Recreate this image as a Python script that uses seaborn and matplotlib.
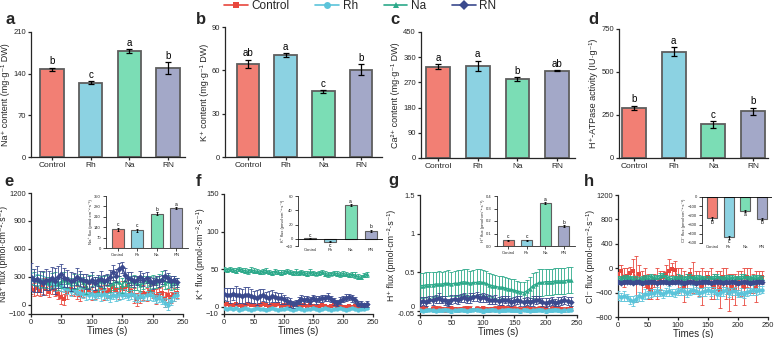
import matplotlib
matplotlib.use("Agg")
import matplotlib.pyplot as plt
from matplotlib.lines import Line2D
import numpy as np
import pandas as pd
import seaborn as sns

# ---------------- data ----------------
groups = ["Control", "Rh", "Na", "RN"]
fill_colors = ["#F27F74", "#8CD2E2", "#7BDDB5", "#A3A8C8"]
line_colors = ["#E8473D", "#5BC4DA", "#2CA98A", "#3B4A8E"]
markers = ["s", "o", "^", "D"]

# top row bar panels
na_content = [147, 125, 178, 149]
na_content_err = [3, 2, 3, 10]
na_content_letters = ["b", "c", "a", "b"]

k_content = [64.5, 70.5, 45.5, 60.5]
k_content_err = [3, 1.5, 1, 4]
k_content_letters = ["ab", "a", "c", "b"]

ca_content = [326, 330, 282, 312]
ca_content_err = [8, 18, 7, 3]
ca_content_letters = ["a", "a", "b", "ab"]

atpase = [293, 618, 195, 272]
atpase_err = [12, 25, 18, 20]
atpase_letters = ["b", "a", "c", "b"]

# insets (mean flux)
na_flux_mean = [127, 120, 229, 269]
na_flux_mean_err = [10, 10, 10, 8]
na_flux_letters = ["c", "c", "b", "a"]

k_flux_mean = [1, -4, 47, 11]
k_flux_mean_err = [0.5, 1, 1.5, 2]
k_flux_letters = ["c", "c", "a", "b"]

h_flux_mean = [0.045, 0.045, 0.345, 0.16]
h_flux_mean_err = [0.005, 0.005, 0.006, 0.008]
h_flux_letters = ["c", "c", "a", "b"]

cl_flux_mean = [-230, -440, -150, -240]
cl_flux_mean_err = [15, 15, 10, 10]
cl_flux_letters = ["b", "c", "a", "b"]

times = list(range(0, 245, 5))

# ---- Na+ flux time courses
e_control = [200, 160, 180, 150, 200, 170, 140, 190, 160, 120,
             80, 60, 140, 170, 150, 130, 100, 150, 180, 160,
             120, 140, 150, 170, 130, 140, 160, 190, 160, 120,
             180, 170, 200, 150, 100, 60, 80, 130, 110, 150,
             140, 90, 120, 130, 60, 100, 80, 110, 130]
e_control_err = [90, 70, 80, 60, 90, 70, 60, 80, 70, 60,
                 70, 60, 80, 70, 60, 70, 60, 70, 80, 60,
                 70, 80, 60, 70, 80, 70, 60, 70, 80, 60,
                 70, 80, 70, 60, 80, 70, 60, 80, 70, 60,
                 70, 80, 60, 70, 80, 70, 60, 70, 60]
e_rh = [280, 260, 270, 240, 250, 230, 220, 240, 210, 230,
        200, 180, 170, 150, 160, 140, 130, 120, 110, 100,
        110, 90, 120, 100, 110, 90, 80, 100, 90, 110,
        100, 120, 90, 110, 100, 70, 90, 80, 100, 110,
        90, 60, 80, 50, 20, 0, 40, 90, 100]
e_rh_err = [60, 50, 60, 50, 60, 50, 40, 50, 60, 50,
            50, 40, 50, 60, 50, 40, 50, 50, 60, 40,
            50, 40, 50, 60, 50, 40, 50, 40, 50, 60,
            40, 50, 40, 50, 60, 40, 50, 40, 50, 60,
            50, 40, 50, 40, 50, 60, 40, 50, 40]
e_na = [300, 280, 260, 250, 270, 240, 230, 260, 280, 220,
        250, 270, 240, 220, 250, 230, 260, 240, 200, 250,
        260, 230, 220, 250, 240, 260, 220, 230, 250, 240,
        210, 260, 220, 250, 240, 230, 210, 240, 250, 230,
        250, 240, 260, 280, 230, 250, 220, 240, 230]
e_na_err = [80, 70, 60, 70, 80, 60, 70, 80, 70, 60,
            70, 80, 60, 70, 80, 60, 70, 60, 80, 70,
            60, 70, 80, 60, 70, 60, 80, 70, 60, 70,
            80, 60, 70, 60, 80, 70, 60, 70, 60, 80,
            70, 60, 70, 80, 60, 70, 60, 70, 60]
e_rn = [300, 260, 280, 250, 230, 270, 260, 290, 250, 300,
        330, 290, 280, 250, 260, 300, 280, 260, 250, 240,
        270, 230, 260, 280, 250, 270, 300, 350, 310, 380,
        400, 320, 290, 280, 250, 260, 300, 270, 290, 250,
        230, 260, 250, 270, 310, 290, 250, 260, 240]
e_rn_err = [150, 120, 140, 110, 130, 110, 100, 120, 140, 120,
            110, 100, 90, 100, 80, 90, 80, 70, 80, 70,
            80, 70, 60, 80, 70, 60, 70, 80, 70, 70,
            60, 70, 60, 70, 60, 50, 60, 70, 60, 50,
            60, 50, 60, 50, 60, 50, 60, 50, 50]

# ---- K+ flux time courses
f_control = [2, 3, 2, 2, 3, 2, 1, 2, 3, 2,
             2, 1, 2, 3, 2, 1, 2, 2, 3, 1,
             2, 2, 1, 2, 3, 2, 1, 2, 1, 2,
             1, 0, 1, 2, 1, 0, 1, 2, 1, 0,
             -1, 0, 1, 0, 1, 0, 1, 0, 1]
f_control_err = [1.5, 1.2, 1.5, 1.0, 1.5, 1.2, 1.0, 1.5, 1.2, 1.0,
                 1.5, 1.2, 1.0, 1.5, 1.2, 1.0, 1.5, 1.2, 1.0, 1.5,
                 1.2, 1.0, 1.5, 1.2, 1.0, 1.5, 1.2, 1.0, 1.5, 1.2,
                 1.0, 1.5, 1.2, 1.0, 1.5, 1.2, 1.0, 1.5, 1.2, 1.0,
                 1.5, 1.2, 1.0, 1.5, 1.2, 1.0, 1.5, 1.2, 1.0]
f_rh = [-2, -3, -2, -3, -2, -4, -3, -2, -3, -4,
        -3, -2, -3, -3, -4, -3, -2, -3, -4, -3,
        -3, -2, -3, -4, -3, -2, -3, -4, -3, -3,
        -2, -3, -4, -3, -2, -3, -4, -3, -3, -2,
        -3, -4, -3, -2, -3, -4, -3, -3, -2]
f_rh_err = [1.2, 1.0, 1.5, 1.2, 1.0, 1.5, 1.2, 1.0, 1.5, 1.2,
            1.0, 1.5, 1.2, 1.0, 1.5, 1.2, 1.0, 1.5, 1.2, 1.0,
            1.5, 1.2, 1.0, 1.5, 1.2, 1.0, 1.5, 1.2, 1.0, 1.5,
            1.2, 1.0, 1.5, 1.2, 1.0, 1.5, 1.2, 1.0, 1.5, 1.2,
            1.0, 1.5, 1.2, 1.0, 1.5, 1.2, 1.0, 1.5, 1.2]
f_na = [50, 49, 50, 49, 48, 50, 49, 48, 47, 49,
        48, 47, 46, 47, 48, 46, 45, 47, 46, 45,
        46, 47, 46, 45, 46, 45, 46, 45, 44, 46,
        45, 44, 45, 46, 44, 43, 44, 45, 44, 43,
        44, 43, 42, 43, 42, 40, 39, 42, 43]
f_na_err = [3, 3, 2.5, 3, 3.5, 3, 2.5, 3, 3, 3.5,
            3, 2.5, 3, 3, 3.5, 3, 2.5, 3, 3, 3.5,
            3, 2.5, 3, 3, 3.5, 3, 2.5, 3, 3, 3.5,
            3, 2.5, 3, 3, 3.5, 3, 2.5, 3, 3, 3.5,
            3, 2.5, 3, 3, 3.5, 3, 2.5, 3, 3]
f_rn = [17, 16, 15, 17, 16, 15, 14, 15, 16, 14,
        13, 12, 14, 15, 13, 12, 14, 13, 12, 11,
        10, 8, 6, 3, 5, 8, 10, 9, 10, 8,
        11, 9, 10, 11, 12, 13, 10, 7, 5, 8,
        10, 12, 13, 11, 9, 4, 3, 2, 4]
f_rn_err = [8, 9, 10, 8, 12, 10, 9, 11, 10, 9,
            8, 10, 9, 8, 7, 9, 8, 7, 6, 7,
            6, 5, 6, 5, 4, 5, 6, 5, 4, 5,
            4, 5, 4, 5, 4, 5, 4, 5, 4, 5,
            4, 5, 4, 5, 4, 3, 4, 3, 4]

# ---- H+ flux time courses
g_control = [0.03, 0.04, 0.03, 0.02, 0.03, 0.04, 0.03, 0.03, 0.02, 0.03,
             0.04, 0.03, 0.02, 0.03, 0.03, 0.04, 0.03, 0.02, 0.03, 0.03,
             0.04, 0.03, 0.02, 0.03, 0.03, 0.04, 0.05, 0.04, 0.03, 0.04,
             0.03, 0.03, 0.02, 0.03, 0.04, 0.03, 0.02, 0.03, 0.03, 0.04,
             0.03, 0.02, 0.03, 0.04, 0.03, 0.03, 0.02, 0.03, 0.04]
g_control_err = [0.03, 0.02, 0.03, 0.02, 0.03, 0.02, 0.03, 0.02, 0.03, 0.02,
                 0.03, 0.02, 0.03, 0.02, 0.03, 0.02, 0.03, 0.02, 0.03, 0.02,
                 0.03, 0.02, 0.03, 0.02, 0.03, 0.02, 0.03, 0.02, 0.03, 0.02,
                 0.03, 0.02, 0.03, 0.02, 0.03, 0.02, 0.03, 0.02, 0.03, 0.02,
                 0.03, 0.02, 0.03, 0.02, 0.03, 0.02, 0.03, 0.02, 0.03]
g_rh = [0.01, 0.00, 0.01, 0.02, 0.01, 0.00, 0.01, 0.01, 0.02, 0.01,
        0.00, 0.01, 0.01, 0.02, 0.01, 0.00, 0.01, 0.02, 0.02, 0.01,
        0.00, 0.01, 0.01, 0.02, 0.01, 0.00, 0.01, 0.01, 0.02, 0.01,
        0.01, 0.01, 0.00, 0.02, 0.01, 0.00, 0.01, 0.01, 0.02, 0.01,
        0.00, 0.01, 0.01, 0.02, 0.01, 0.00, 0.01, 0.01, 0.02]
g_rh_err = [0.02, 0.015, 0.02, 0.015, 0.02, 0.015, 0.02, 0.015, 0.02, 0.015,
            0.02, 0.015, 0.02, 0.015, 0.02, 0.015, 0.02, 0.015, 0.02, 0.015,
            0.02, 0.015, 0.02, 0.015, 0.02, 0.015, 0.02, 0.015, 0.02, 0.015,
            0.02, 0.015, 0.02, 0.015, 0.02, 0.015, 0.02, 0.015, 0.02, 0.015,
            0.02, 0.015, 0.02, 0.015, 0.02, 0.015, 0.02, 0.015, 0.02]
g_na = [0.33, 0.33, 0.34, 0.34, 0.34, 0.35, 0.35, 0.35, 0.36, 0.36,
        0.35, 0.36, 0.36, 0.37, 0.38, 0.37, 0.36, 0.37, 0.37, 0.38,
        0.37, 0.36, 0.34, 0.33, 0.32, 0.31, 0.31, 0.30, 0.29, 0.28,
        0.27, 0.26, 0.25, 0.24, 0.26, 0.29, 0.33, 0.35, 0.37, 0.37,
        0.38, 0.38, 0.38, 0.39, 0.39, 0.39, 0.39, 0.40, 0.40]
g_na_err = [0.16, 0.16, 0.16, 0.17, 0.16, 0.16, 0.17, 0.16, 0.16, 0.17,
            0.16, 0.16, 0.17, 0.16, 0.16, 0.17, 0.16, 0.16, 0.17, 0.16,
            0.16, 0.16, 0.15, 0.15, 0.15, 0.15, 0.14, 0.14, 0.14, 0.14,
            0.14, 0.13, 0.13, 0.13, 0.14, 0.15, 0.16, 0.16, 0.17, 0.17,
            0.17, 0.17, 0.17, 0.17, 0.17, 0.17, 0.17, 0.17, 0.17]
g_rn = [0.12, 0.13, 0.12, 0.15, 0.14, 0.16, 0.17, 0.15, 0.14, 0.11,
        0.15, 0.16, 0.15, 0.17, 0.18, 0.16, 0.17, 0.18, 0.19, 0.17,
        0.18, 0.17, 0.15, 0.14, 0.15, 0.13, 0.14, 0.15, 0.14, 0.12,
        0.13, 0.14, 0.13, 0.12, 0.13, 0.12, 0.13, 0.14, 0.15, 0.12,
        0.11, 0.12, 0.13, 0.11, 0.12, 0.13, 0.14, 0.13, 0.12]
g_rn_err = [0.06, 0.05, 0.06, 0.05, 0.06, 0.05, 0.06, 0.05, 0.06, 0.05,
            0.06, 0.05, 0.06, 0.05, 0.06, 0.05, 0.06, 0.05, 0.06, 0.05,
            0.06, 0.05, 0.06, 0.05, 0.06, 0.05, 0.06, 0.05, 0.06, 0.05,
            0.05, 0.05, 0.06, 0.05, 0.05, 0.05, 0.06, 0.05, 0.05, 0.05,
            0.06, 0.05, 0.05, 0.05, 0.06, 0.05, 0.05, 0.05, 0.06]

# ---- Cl- flux time courses
h_control = [-100, -50, -150, -120, -80, -50, -180, -100, -250, -150,
             -300, -350, -200, -250, -200, -150, -100, -50, -10, -30,
             -200, -150, -300, -250, -100, -150, -200, -250, -300, -200,
             -150, -250, -300, -200, -350, -150, -250, -400, -300, -350,
             -200, -250, -300, -150, -200, -250, -300, -200, -150]
h_control_err = [150, 100, 150, 120, 100, 200, 380, 150, 200, 150,
                 200, 150, 100, 250, 150, 100, 150, 200, 100, 150,
                 200, 150, 250, 150, 100, 250, 150, 200, 300, 150,
                 100, 250, 200, 150, 300, 150, 250, 300, 200, 250,
                 150, 200, 300, 150, 200, 150, 250, 150, 100]
h_rh = [-450, -470, -460, -480, -520, -540, -500, -460, -470, -420,
        -430, -410, -400, -380, -400, -420, -390, -370, -400, -410,
        -380, -360, -380, -400, -380, -350, -370, -400, -390, -380,
        -360, -380, -370, -420, -400, -380, -360, -400, -380, -370,
        -420, -400, -430, -390, -380, -360, -380, -360, -350]
h_rh_err = [70, 60, 80, 60, 70, 80, 60, 70, 60, 80,
            60, 70, 60, 80, 60, 70, 60, 80, 60, 70,
            60, 80, 60, 70, 60, 80, 60, 70, 60, 80,
            60, 70, 60, 80, 60, 70, 60, 80, 60, 70,
            60, 80, 60, 70, 60, 80, 60, 70, 60]
h_na = [-170, -160, -150, -140, -150, -160, -170, -180, -160, -150,
        -140, -130, -150, -140, -120, -110, -140, -160, -170, -150,
        -140, -150, -160, -140, -130, -150, -150, -140, -150, -160,
        -170, -150, -140, -130, -150, -160, -150, -140, -150, -160,
        -150, -140, -130, -150, -160, -150, -140, -150, -160]
h_na_err = [40, 30, 40, 35, 30, 40, 35, 30, 40, 35,
            30, 40, 35, 30, 40, 35, 30, 40, 35, 30,
            40, 35, 30, 40, 35, 30, 40, 35, 30, 40,
            35, 30, 40, 35, 30, 40, 35, 30, 40, 35,
            30, 40, 35, 30, 40, 35, 30, 40, 35]
h_rn = [-230, -240, -230, -220, -230, -240, -230, -220, -240, -230,
        -230, -220, -230, -240, -230, -220, -230, -240, -230, -230,
        -220, -230, -240, -230, -220, -230, -240, -230, -230, -220,
        -230, -240, -230, -220, -230, -240, -230, -230, -220, -230,
        -240, -230, -220, -230, -240, -230, -230, -220, -230]
h_rn_err = [30, 25, 30, 25, 30, 25, 30, 25, 30, 25,
            30, 25, 30, 25, 30, 25, 30, 25, 30, 25,
            30, 25, 30, 25, 30, 25, 30, 25, 30, 25,
            30, 25, 30, 25, 30, 25, 30, 25, 30, 25,
            30, 25, 30, 25, 30, 25, 30, 25, 30]

# ---------------- style ----------------
sns.set_theme(style="ticks")
plt.rcParams["font.family"] = ["Liberation Sans", "DejaVu Sans"]
plt.rcParams["axes.linewidth"] = 0.9
plt.rcParams["xtick.major.width"] = 0.9
plt.rcParams["ytick.major.width"] = 0.9
plt.rcParams["xtick.major.size"] = 2.5
plt.rcParams["ytick.major.size"] = 2.5
plt.rcParams["xtick.major.pad"] = 1.2
plt.rcParams["ytick.major.pad"] = 1.2

W, H = 778, 338
fig = plt.figure(figsize=(W / 100, H / 100), dpi=100)


def box(l, r, t, b):
    return [l / W, 1 - b / H, (r - l) / W, (b - t) / H]


def bar_panel(ax, vals, errs, letters, ylim, yticks, ylabel, xlim,
              tick_fs=5.5, xtick_fs=6, label_fs=6.5, letter_fs=7, lw=1.3,
              spine_lw=0.9, elw=0.9, cap=2.0, pad_frac=0.01, zero_axis=False,
              yticklabels=None, labelpad=2):
    df = pd.DataFrame({"group": groups, "value": vals})
    sns.barplot(data=df, x="group", y="value", hue="group", order=groups,
                hue_order=groups, palette=fill_colors, width=0.6,
                edgecolor="#5e5e5e", linewidth=lw, errorbar=None,
                legend=False, ax=ax, saturation=1)
    x = np.arange(len(groups))
    ax.errorbar(x, vals, yerr=errs, fmt="none", ecolor="black",
                elinewidth=elw, capsize=cap, capthick=elw, zorder=5)
    span = ylim[1] - ylim[0]
    for i, (v, e, L) in enumerate(zip(vals, errs, letters)):
        if v >= 0:
            ax.text(i, v + e + pad_frac * span, L, ha="center", va="bottom",
                    fontsize=letter_fs, color="black")
        else:
            ax.text(i, v - e - pad_frac * span, L, ha="center", va="top",
                    fontsize=letter_fs, color="black")
    ax.set_xlim(*xlim)
    ax.set_ylim(*ylim)
    ax.set_yticks(yticks)
    if yticklabels is not None:
        ax.set_yticklabels(yticklabels)
    ax.set_xlabel("")
    ax.set_ylabel(ylabel, fontsize=label_fs, labelpad=labelpad)
    ax.tick_params(axis="y", labelsize=tick_fs, width=spine_lw)
    ax.tick_params(axis="x", labelsize=xtick_fs, width=spine_lw)
    sns.despine(ax=ax)
    for s in ["left", "bottom"]:
        ax.spines[s].set_linewidth(spine_lw)
    if zero_axis:
        ax.spines["bottom"].set_visible(False)
        ax.axhline(0, color="black", lw=spine_lw, zorder=6)
        ax.tick_params(axis="x", length=0)


def line_panel(ax, series, errs, ylim, yticks, ylabel, yticklabels=None):
    for i, g in enumerate(groups):
        df = pd.DataFrame({"t": times, "v": series[i]})
        ax.errorbar(times, series[i], yerr=errs[i], fmt="none",
                    ecolor=line_colors[i], elinewidth=0.7, capsize=1.6,
                    capthick=0.7, alpha=0.85, zorder=2 + i)
        sns.lineplot(data=df, x="t", y="v", color=line_colors[i],
                     marker=markers[i], markersize=3.2, markeredgewidth=0,
                     linewidth=1.0, ax=ax, zorder=3 + i)
    ax.set_xlim(0, 250)
    ax.set_xticks([0, 50, 100, 150, 200, 250])
    ax.set_ylim(*ylim)
    ax.set_yticks(yticks)
    if yticklabels is not None:
        ax.set_yticklabels(yticklabels)
    ax.set_xlabel("Times (s)", fontsize=7, labelpad=0)
    ax.set_ylabel(ylabel, fontsize=6.3, labelpad=1)
    ax.tick_params(labelsize=5.4)
    sns.despine(ax=ax)


# ---------------- top row ----------------
ax_a = fig.add_axes(box(31, 185, 32, 157))
bar_panel(ax_a, na_content, na_content_err, na_content_letters, (0, 210),
          [0, 70, 140, 210], "Na\u207a content (mg\u00b7g\u207b\u00b9 DW)",
          (-0.54, 3.44))
ax_b = fig.add_axes(box(225, 382, 27, 157))
bar_panel(ax_b, k_content, k_content_err, k_content_letters, (0, 90),
          [0, 30, 60, 90], "K\u207a content (mg\u00b7g\u207b\u00b9 DW)",
          (-0.61, 3.56))
ax_c = fig.add_axes(box(421, 575, 32, 158))
bar_panel(ax_c, ca_content, ca_content_err, ca_content_letters, (0, 450),
          [0, 90, 180, 270, 360, 450],
          "Ca\u00b2\u207a content (mg\u00b7g\u207b\u00b9 DW)", (-0.43, 3.45))
ax_d = fig.add_axes(box(619, 768, 29, 158))
bar_panel(ax_d, atpase, atpase_err, atpase_letters, (0, 750),
          [0, 250, 500, 750], "H\u207a-ATPase activity (IU\u00b7g\u207b\u00b9)",
          (-0.38, 3.38))

# ---------------- bottom row ----------------
flux_unit = " flux (pmol\u00b7cm\u207b\u00b2\u00b7s\u207b\u00b9)"
ax_e = fig.add_axes(box(31, 183, 193, 314))
line_panel(ax_e, [e_control, e_rh, e_na, e_rn],
           [e_control_err, e_rh_err, e_na_err, e_rn_err], (-100, 1200),
           [-100, 0, 300, 600, 900, 1200], "Na\u207a" + flux_unit)
ax_f = fig.add_axes(box(224, 373, 194, 314))
line_panel(ax_f, [f_control, f_rh, f_na, f_rn],
           [f_control_err, f_rh_err, f_na_err, f_rn_err], (-10, 150),
           [-10, 0, 50, 100, 150], "K\u207a" + flux_unit)
ax_g = fig.add_axes(box(420, 577, 195, 315))
line_panel(ax_g, [g_control, g_rh, g_na, g_rn],
           [g_control_err, g_rh_err, g_na_err, g_rn_err], (-0.05, 1.5),
           [-0.05, 0, 0.5, 1, 1.5], "H\u207a" + flux_unit,
           yticklabels=["-0.05", "0", "0.5", "1", "1.5"])
# the "0" and "-0.05" labels sit very close: lift "0" slightly
g_labels = ax_g.get_yticklabels()
g_labels[1].set_va("bottom")
g_labels[0].set_va("center")
ax_h = fig.add_axes(box(618, 768, 195, 317))
line_panel(ax_h, [h_control, h_rh, h_na, h_rn],
           [h_control_err, h_rh_err, h_na_err, h_rn_err], (-800, 1200),
           [-800, -400, 0, 400, 800, 1200], "Cl\u207b" + flux_unit)

# ---------------- insets ----------------
inset_kw = dict(tick_fs=3, xtick_fs=3, label_fs=3, letter_fs=3.5, lw=0.8,
                spine_lw=0.6, elw=0.6, cap=1.0, pad_frac=0.005, labelpad=1)
ins_e = fig.add_axes(box(106, 188, 196, 248))
bar_panel(ins_e, na_flux_mean, na_flux_mean_err, na_flux_letters, (0, 350),
          [0, 70, 140, 210, 280, 350], "Na\u207a" + flux_unit, (-0.6, 3.6),
          **inset_kw)
ins_f = fig.add_axes(box(298, 383, 196, 246))
bar_panel(ins_f, k_flux_mean, k_flux_mean_err, k_flux_letters, (-10, 60),
          [-10, 0, 20, 40, 60], "K\u207a" + flux_unit, (-0.6, 3.6),
          zero_axis=True, **inset_kw)
ins_g = fig.add_axes(box(497, 575, 196, 246))
bar_panel(ins_g, h_flux_mean, h_flux_mean_err, h_flux_letters, (0, 0.4),
          [0, 0.1, 0.2, 0.3, 0.4], "H\u207a" + flux_unit, (-0.6, 3.6),
          yticklabels=["0.0", "0.1", "0.2", "0.3", "0.4"], **inset_kw)
ins_h = fig.add_axes(box(702, 772, 197, 243))
bar_panel(ins_h, cl_flux_mean, cl_flux_mean_err, cl_flux_letters, (-500, 0),
          [-500, -400, -300, -200, -100, 0], "Cl\u207b" + flux_unit,
          (-0.6, 3.6), zero_axis=True, **inset_kw)

# ---------------- panel letters ----------------
for lab, (px, py) in zip("abcdefgh", [(6, 19), (196, 19), (390, 19), (588, 19),
                                      (4, 181), (196, 181), (388, 181), (584, 181)]):
    fig.text(px / W, 1 - py / H, lab, fontsize=12, fontweight="bold",
             ha="left", va="center")

# ---------------- legend ----------------
handles = [Line2D([0], [0], color=line_colors[i], marker=markers[i],
                  markersize=5, markeredgewidth=0, lw=1.2)
           for i in range(4)]
fig.legend(handles, groups, loc="upper center", bbox_to_anchor=(0.463, 1.03),
           ncol=4, frameon=False, fontsize=8.5, handlelength=2.0,
           columnspacing=2.2, handletextpad=0.3)

fig.savefig("out.png", dpi=100)
